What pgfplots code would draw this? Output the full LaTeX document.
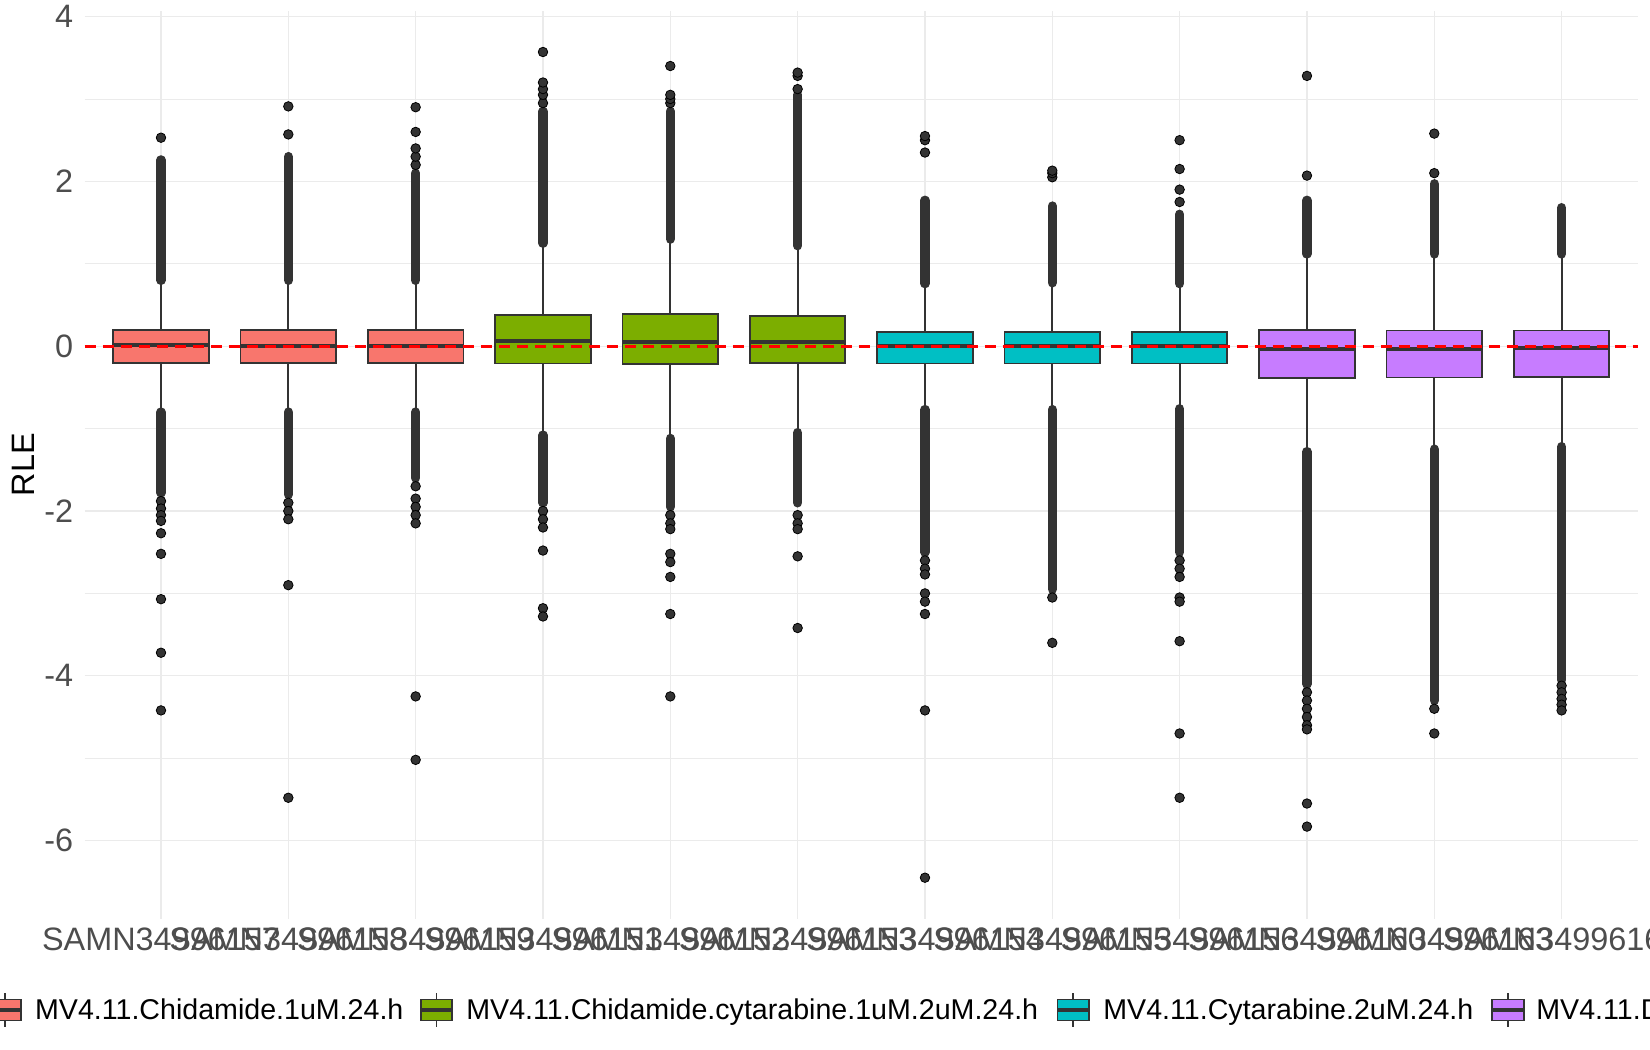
\documentclass[border=0pt]{standalone}
\usepackage{fontspec}
\setmainfont{Liberation Sans}
\usepackage{pgfplots}
\pgfplotsset{compat=1.18}
\usepgfplotslibrary{statistics}
\definecolor{cR}{HTML}{F8766D}
\definecolor{cG}{HTML}{7CAE00}
\definecolor{cC}{HTML}{00BFC4}
\definecolor{cP}{HTML}{C77CFF}
\definecolor{dk}{HTML}{333333}
\definecolor{gridc}{HTML}{EBEBEB}
\definecolor{tickc}{HTML}{4D4D4D}
\newcommand{\bx}[7]{\addplot[fill=#1, draw=dk, line width=0.9pt,
  boxplot prepared={draw position=#2, lower whisker=#3, lower quartile=#4,
  median=#5, upper quartile=#6, upper whisker=#7, box extend=0.75, whisker extend=0}] coordinates {};}
\newcommand{\lkey}[2]{\begin{scope}[shift={(#1,20pt)}]
 \draw[dk,line width=0.9pt] (0,-8.4pt)--(0,-5.25pt) (0,5.25pt)--(0,8.4pt);
 \filldraw[fill=#2,draw=dk,line width=0.9pt] (-7.875pt,-5.25pt) rectangle (7.875pt,5.25pt);
 \draw[dk,line width=1.8pt] (-7.875pt,0)--(7.875pt,0);
\end{scope}}
\begin{document}
\begin{tikzpicture}
\begin{axis}[
  at={(42.3pt,65.55pt)}, anchor=south west,
  scale only axis, width=776.7pt, height=454.05pt,
  xmin=0.4, xmax=12.6, ymin=-6.95, ymax=4.07,
  xtick={1,2,3,4,5,6,7,8,9,10,11,12},
  xticklabels={SAMN34996157,SAMN34996158,SAMN34996159,SAMN34996151,SAMN34996152,SAMN34996153,SAMN34996154,SAMN34996155,SAMN34996156,SAMN34996160,SAMN34996163,SAMN34996161},
  ytick={-6,-4,-2,0,2,4},
  yticklabels={-6,-4,-2,0,2,4},
  minor ytick={-5,-3,-1,1,3},
  xmajorgrids, ymajorgrids, yminorgrids,
  major grid style={draw=gridc, line width=0.6pt},
  minor grid style={draw=gridc, line width=0.35pt},
  axis line style={draw=none},
  major tick length=0pt, minor tick length=0pt,
  tick style={draw=none},
  xticklabel style={font=\fontsize{16.2}{19}\selectfont, text=tickc, anchor=north, inner sep=0pt, yshift=-4.5pt},
  yticklabel style={font=\fontsize{16.2}{19}\selectfont, text=tickc, anchor=east, inner sep=0pt, xshift=-5.5pt},
  every axis y label/.style={at={(axis description cs:-0.0397,0.5)}, rotate=90, anchor=center, font=\fontsize{16.2}{19}\selectfont, text=black},
  ylabel={RLE},
  boxplot/draw direction=y,
  boxplot/every median/.style={line width=2pt},
]
% dense outlier columns
\addplot[dk, line width=4.75pt, line cap=round, unbounded coords=jump] coordinates {(1,0.80)(1,2.26)(1,nan)(1,-0.80)(1,-1.78)};
\addplot[dk, line width=4.75pt, line cap=round, unbounded coords=jump] coordinates {(2,0.80)(2,2.30)(2,nan)(2,-0.80)(2,-1.80)};
\addplot[dk, line width=4.75pt, line cap=round, unbounded coords=jump] coordinates {(3,0.80)(3,2.10)(3,nan)(3,-0.80)(3,-1.60)};
\addplot[dk, line width=4.75pt, line cap=round, unbounded coords=jump] coordinates {(4,1.25)(4,2.85)(4,nan)(4,-1.08)(4,-1.90)};
\addplot[dk, line width=4.75pt, line cap=round, unbounded coords=jump] coordinates {(5,1.30)(5,2.85)(5,nan)(5,-1.12)(5,-1.95)};
\addplot[dk, line width=4.75pt, line cap=round, unbounded coords=jump] coordinates {(6,1.22)(6,3.05)(6,nan)(6,-1.05)(6,-1.90)};
\addplot[dk, line width=4.75pt, line cap=round, unbounded coords=jump] coordinates {(7,0.76)(7,1.77)(7,nan)(7,-0.77)(7,-2.50)};
\addplot[dk, line width=4.75pt, line cap=round, unbounded coords=jump] coordinates {(8,0.77)(8,1.70)(8,nan)(8,-0.77)(8,-2.95)};
\addplot[dk, line width=4.75pt, line cap=round, unbounded coords=jump] coordinates {(9,0.76)(9,1.60)(9,nan)(9,-0.76)(9,-2.50)};
\addplot[dk, line width=4.75pt, line cap=round, unbounded coords=jump] coordinates {(10,1.12)(10,1.77)(10,nan)(10,-1.28)(10,-4.10)};
\addplot[dk, line width=4.75pt, line cap=round, unbounded coords=jump] coordinates {(11,1.12)(11,1.97)(11,nan)(11,-1.25)(11,-4.30)};
\addplot[dk, line width=4.75pt, line cap=round, unbounded coords=jump] coordinates {(12,1.12)(12,1.68)(12,nan)(12,-1.22)(12,-4.05)};
% sparse outliers
\addplot[only marks, mark=*, mark size=2.375pt, mark options={draw=none, fill=dk}] coordinates {
(1,2.53)(1,-1.88)(1,-1.97)(1,-2.05)(1,-2.12)(1,-2.27)(1,-2.52)(1,-3.07)(1,-3.72)(1,-4.42)
(2,2.57)(2,2.91)(2,-1.90)(2,-2.00)(2,-2.10)(2,-2.90)(2,-5.48)
(3,2.20)(3,2.30)(3,2.40)(3,2.60)(3,2.90)(3,-1.70)(3,-1.85)(3,-1.95)(3,-2.05)(3,-2.15)(3,-4.25)(3,-5.02)
(4,2.95)(4,3.05)(4,3.12)(4,3.20)(4,3.57)(4,-2.00)(4,-2.10)(4,-2.20)(4,-2.48)(4,-3.18)(4,-3.28)
(5,2.95)(5,3.00)(5,3.05)(5,3.40)(5,-2.05)(5,-2.15)(5,-2.22)(5,-2.52)(5,-2.62)(5,-2.80)(5,-3.25)(5,-4.25)
(6,3.12)(6,3.28)(6,3.32)(6,-2.05)(6,-2.15)(6,-2.22)(6,-2.55)(6,-3.42)
(7,2.35)(7,2.50)(7,2.55)(7,-2.60)(7,-2.70)(7,-2.77)(7,-3.00)(7,-3.10)(7,-3.25)(7,-4.42)(7,-6.45)
(8,2.05)(8,2.10)(8,2.13)(8,-3.05)(8,-3.60)
(9,1.75)(9,1.90)(9,2.15)(9,2.50)(9,-2.60)(9,-2.70)(9,-2.80)(9,-3.05)(9,-3.10)(9,-3.58)(9,-4.70)(9,-5.48)
(10,2.07)(10,3.28)(10,-4.20)(10,-4.30)(10,-4.40)(10,-4.50)(10,-4.60)(10,-4.65)(10,-5.55)(10,-5.83)
(11,2.10)(11,2.58)(11,-4.40)(11,-4.70)
(12,-4.12)(12,-4.20)(12,-4.28)(12,-4.35)(12,-4.42)
};
% boxes: color, position, lower whisker, q1, median, q3, upper whisker
\bx{cR}{1}{-0.78}{-0.20}{0.01}{0.20}{0.79}
\bx{cR}{2}{-0.79}{-0.20}{0.00}{0.20}{0.79}
\bx{cR}{3}{-0.79}{-0.20}{0.00}{0.20}{0.79}
\bx{cG}{4}{-1.06}{-0.21}{0.06}{0.38}{1.24}
\bx{cG}{5}{-1.10}{-0.22}{0.05}{0.39}{1.29}
\bx{cG}{6}{-1.04}{-0.20}{0.05}{0.37}{1.21}
\bx{cC}{7}{-0.76}{-0.21}{0.00}{0.17}{0.75}
\bx{cC}{8}{-0.76}{-0.21}{0.00}{0.17}{0.76}
\bx{cC}{9}{-0.75}{-0.21}{0.00}{0.17}{0.75}
\bx{cP}{10}{-1.27}{-0.39}{-0.03}{0.20}{1.11}
\bx{cP}{11}{-1.24}{-0.38}{-0.03}{0.19}{1.11}
\bx{cP}{12}{-1.21}{-0.37}{-0.02}{0.19}{1.11}
% reference line
\addplot[red, line width=1.35pt, dash pattern=on 5.5pt off 3.5pt] coordinates {(0.4,0) (12.6,0)};
\end{axis}
% legend
\lkey{2.6pt}{cR}
\lkey{218.25pt}{cG}
\lkey{536.65pt}{cC}
\lkey{754pt}{cP}
\node[anchor=base west, inner sep=0pt, font=\fontsize{14.3}{17}\selectfont] at (17.35pt,15pt) {MV4.11.Chidamide.1uM.24.h};
\node[anchor=base west, inner sep=0pt, font=\fontsize{14.3}{17}\selectfont] at (233pt,15pt) {MV4.11.Chidamide.cytarabine.1uM.2uM.24.h};
\node[anchor=base west, inner sep=0pt, font=\fontsize{14.3}{17}\selectfont] at (551.5pt,15pt) {MV4.11.Cytarabine.2uM.24.h};
\node[anchor=base west, inner sep=0pt, font=\fontsize{14.3}{17}\selectfont] at (768pt,15pt) {MV4.11.DMSO.24.h};
\pgfresetboundingbox
\path[use as bounding box] (0,0) rectangle (825pt,525pt);
\end{tikzpicture}
\end{document}
